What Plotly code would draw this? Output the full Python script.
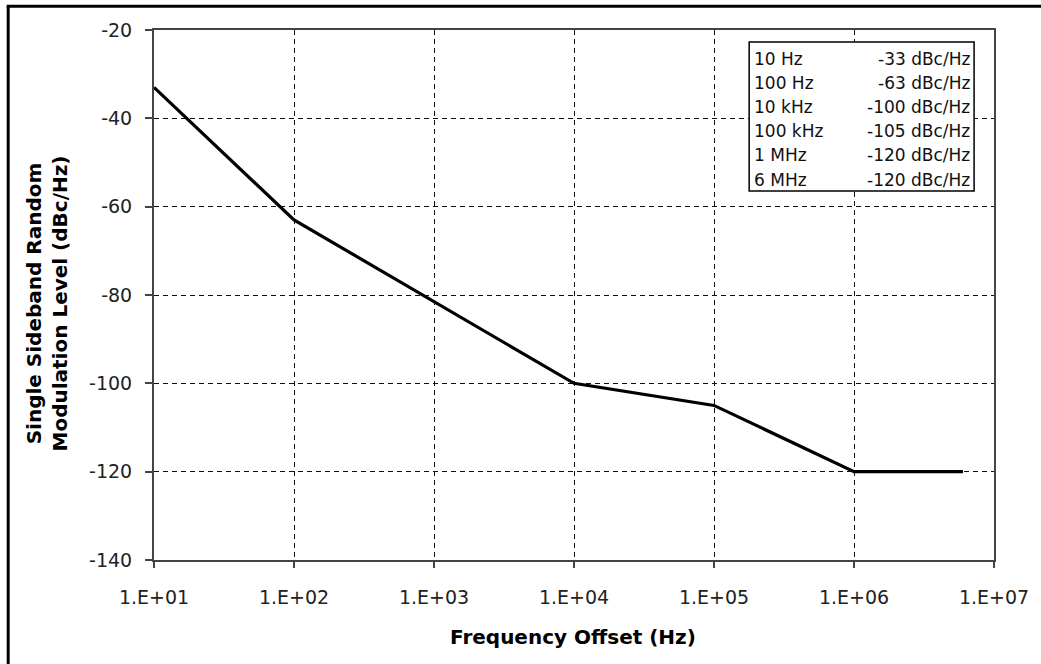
import plotly.graph_objects as go

# Data
freq_hz = [10, 100, 10000, 100000, 1000000, 6000000]
level_dbc = [-33, -63, -100, -105, -120, -120]

legend_freq_labels = ["10 Hz", "100 Hz", "10 kHz", "100 kHz", "1 MHz", "6 MHz"]
legend_values = [-33, -63, -100, -105, -120, -120]

x_tick_vals = [1e1, 1e2, 1e3, 1e4, 1e5, 1e6, 1e7]
x_tick_text = ["1.E+01", "1.E+02", "1.E+03", "1.E+04", "1.E+05", "1.E+06", "1.E+07"]
y_tick_vals = [-20, -40, -60, -80, -100, -120, -140]
y_tick_text = ["-20", "-40", "-60", "-80", "-100", "-120", "-140"]

FONT = "DejaVu Sans, Liberation Sans, Arial, sans-serif"

fig = go.Figure()
fig.add_trace(go.Scatter(
    x=freq_hz, y=level_dbc, mode="lines",
    line=dict(color="black", width=3.2),
    showlegend=False, hoverinfo="x+y",
))

# plot-area geometry in pixels (for placing paper-referenced items)
L, R, T, B = 154, 998, 30, 560
W, H = R - L, B - T
def px(xp):
    return (xp - L) / W
def py(yp):
    return (B - yp) / H

shapes = []
# outer frame (left and top edges visible)
shapes.append(dict(type="line", xref="paper", yref="paper",
                   x0=px(7.5), x1=px(7.5), y0=py(6.2), y1=py(720),
                   line=dict(color="black", width=3), layer="above"))
shapes.append(dict(type="line", xref="paper", yref="paper",
                   x0=px(6), x1=px(1100), y0=py(6.2), y1=py(6.2),
                   line=dict(color="black", width=3), layer="above"))
# legend box
shapes.append(dict(type="rect", xref="paper", yref="paper",
                   x0=px(752), x1=px(978), y0=py(191), y1=py(42),
                   fillcolor="white", line=dict(color="black", width=1.5),
                   layer="above"))

annotations = []
row0, step = 58.5, 24.2
for i, (fl, v) in enumerate(zip(legend_freq_labels, legend_values)):
    yc = py(row0 + i * step)
    annotations.append(dict(xref="paper", yref="paper", x=px(755), y=yc,
                            text=fl, showarrow=False, xanchor="left", yanchor="middle",
                            font=dict(family=FONT, size=17, color="#111")))
    annotations.append(dict(xref="paper", yref="paper", x=px(976), y=yc,
                            text=f"{v} dBc/Hz", showarrow=False, xanchor="right",
                            yanchor="middle",
                            font=dict(family=FONT, size=17, color="#111")))

# y-axis title (two lines, rotated)
annotations.append(dict(xref="paper", yref="paper", x=px(46), y=py(304),
                        text="<b>Single Sideband Random<br>Modulation Level (dBc/Hz)</b>",
                        textangle=-90, showarrow=False, xanchor="center", yanchor="middle",
                        font=dict(family=FONT, size=20, color="black")))
# x-axis title
annotations.append(dict(xref="paper", yref="paper", x=px(575), y=py(637),
                        text="<b>Frequency Offset (Hz)</b>",
                        showarrow=False, xanchor="center", yanchor="middle",
                        font=dict(family=FONT, size=20, color="black")))

fig.update_layout(
    width=1041, height=664,
    margin=dict(l=L, r=1041 - R, t=T, b=664 - B),
    paper_bgcolor="white", plot_bgcolor="white",
    font=dict(family=FONT, size=19, color="#222"),
    shapes=shapes, annotations=annotations,
    xaxis=dict(type="log", range=[1, 7], tickvals=x_tick_vals, ticktext=x_tick_text,
               showgrid=True, gridcolor="#111", gridwidth=1.2, griddash="5px,4px",
               showline=True, mirror=True, linecolor="#444", linewidth=2,
               ticks="outside", ticklen=6, tickcolor="#444", tickwidth=1.5,
               ticklabelstandoff=13,
               tickfont=dict(family=FONT, size=19, color="#222"), zeroline=False),
    yaxis=dict(range=[-140, -20], tickvals=y_tick_vals, ticktext=y_tick_text,
               showgrid=True, gridcolor="#111", gridwidth=1.2, griddash="5px,4px",
               showline=True, mirror=True, linecolor="#444", linewidth=2,
               ticks="outside", ticklen=7, tickcolor="#444", tickwidth=1.5,
               ticklabelstandoff=9,
               tickfont=dict(family=FONT, size=19, color="#222"), zeroline=False),
)

fig.write_html("out.html", config={"displayModeBar": False},
               post_script="document.body.style.margin='0';")
